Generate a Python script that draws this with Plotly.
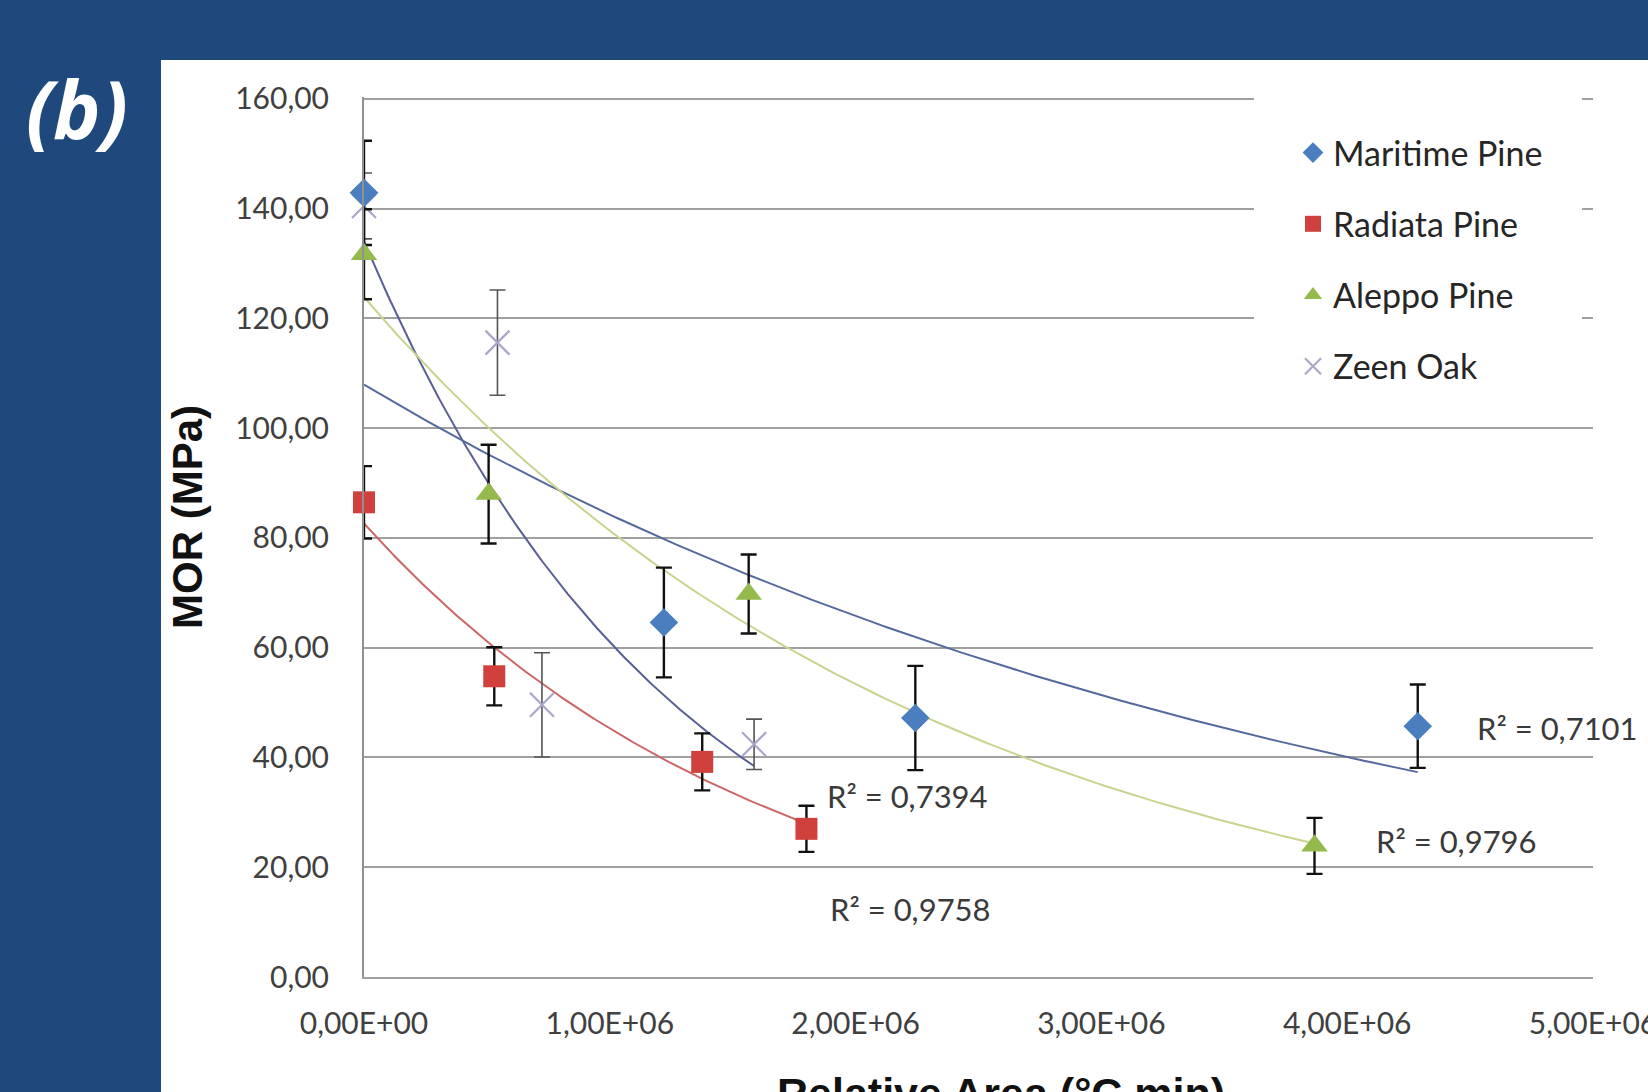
import numpy as np
import plotly.graph_objects as go

# ---------------- data ----------------
species = ["Maritime Pine", "Radiata Pine", "Aleppo Pine", "Zeen Oak"]

mp_x = [0, 1.22e6, 2.243e6, 4.287e6]
mp_y = [142.9, 64.6, 47.2, 45.7]
mp_err = [9.5, 10.0, 9.5, 7.6]

rp_x = [0, 0.53e6, 1.376e6, 1.80e6]
rp_y = [86.5, 54.8, 39.2, 27.0]
rp_err = [6.6, 5.3, 5.2, 4.2]

ap_x = [0, 0.507e6, 1.565e6, 3.867e6]
ap_y = [131.7, 88.0, 69.8, 23.9]
ap_err = [8.2, 9.0, 7.2, 5.1]

zo_x = [0, 0.543e6, 0.724e6, 1.587e6]
zo_y = [140.5, 115.6, 49.6, 42.4]
zo_err = [6.0, 9.6, 9.5, 4.6]

r2_labels = ["R² = 0,7101", "R² = 0,9758", "R² = 0,9796", "R² = 0,7394"]

x_tickvals = [0, 1e6, 2e6, 3e6, 4e6, 5e6]
x_ticktext = ["0,00E+00", "1,00E+06", "2,00E+06", "3,00E+06", "4,00E+06", "5,00E+06"]
y_tickvals = [0, 20, 40, 60, 80, 100, 120, 140, 160]
y_ticktext = ["0,00", "20,00", "40,00", "60,00", "80,00", "100,00", "120,00", "140,00", "160,00"]

# ---------------- styles ----------------
FONT = "Lato"
BLUE_BG = "#1F497D"

series = [
    # name, x, y, err, marker color, symbol, size, trend color, err color, err thick, rank
    (species[3], zo_x, zo_y, zo_err, "#a9a6c9", "x-thin", 24, "#5a5f96", "#555555", 1.6, 4),
    (species[0], mp_x, mp_y, mp_err, "#4a7ebf", "diamond", 22, "#55699c", "#111111", 2.4, 1),
    (species[1], rp_x, rp_y, rp_err, "#d0403c", "square", 22, "#cc6666", "#111111", 2.4, 2),
    (species[2], ap_x, ap_y, ap_err, "#94b94c", "triangle-up", 23, "#c9d28e", "#111111", 2.4, 3),
]

fig = go.Figure()


def exp_fit(xs, ys):
    xs = np.asarray(xs, float)
    ys = np.asarray(ys, float)
    b, ln_a = np.polyfit(xs, np.log(ys), 1)
    xx = np.linspace(xs.min(), xs.max(), 200)
    return xx, np.exp(ln_a) * np.exp(b * xx)


# trendlines first (under markers)
for name, xs, ys, err, mc, sym, sz, tc, ec, et, rank in series:
    tx, ty = exp_fit(xs, ys)
    fig.add_trace(go.Scatter(
        x=tx, y=ty, mode="lines", line=dict(color=tc, width=2),
        showlegend=False, legendgroup=name, hoverinfo="skip"))

for name, xs, ys, err, mc, sym, sz, tc, ec, et, rank in series:
    mk = dict(symbol=sym, size=sz, color=mc)
    if sym == "x-thin":
        mk["line"] = dict(color=mc, width=2.2)
    fig.add_trace(go.Scatter(
        x=xs, y=ys, mode="markers", name=name, marker=mk, cliponaxis=False,
        legendgroup=name, legendrank=rank,
        error_y=dict(type="data", array=err, visible=True, color=ec,
                     thickness=et, width=8)))

# R^2 labels
r2_pos = [(4.52e6, 45.4), (1.888e6, 12.4), (4.11e6, 24.7), (1.876e6, 32.9)]
for txt, (px, py) in zip(r2_labels, r2_pos):
    fig.add_annotation(x=px, y=py, xref="x", yref="y", text=txt, showarrow=False,
                       xanchor="left", yanchor="middle",
                       font=dict(family=FONT, size=31, color="#3a3a3a"))

PLOT_L, PLOT_R, PLOT_T, PLOT_B = 364, 1593, 97, 977
PW, PH = PLOT_R - PLOT_L, PLOT_B - PLOT_T


def px_x(p):
    return (p - PLOT_L) / PW


def px_y(p):
    return (PLOT_B - p) / PH


# white panel
fig.add_shape(type="rect", xref="paper", yref="paper",
              x0=px_x(161), x1=px_x(1700), y0=-0.2, y1=px_y(60),
              fillcolor="white", line=dict(width=0), layer="below")
# legend box hides gridlines
fig.add_shape(type="rect", xref="paper", yref="paper",
              x0=px_x(1254), x1=px_x(1582), y0=px_y(412), y1=px_y(85),
              fillcolor="white", line=dict(width=0), layer="above")

# (b) label
fig.add_annotation(xref="paper", yref="paper", x=px_x(24), y=px_y(108),
                   xanchor="left", yanchor="middle", showarrow=False,
                   text="<b><i>(b)</i></b>",
                   font=dict(family="Open Sans", size=80, color="white"))

# axis titles
fig.add_annotation(xref="paper", yref="paper", x=px_x(187), y=px_y(517),
                   xanchor="center", yanchor="middle", textangle=-90, showarrow=False,
                   text="<b>MOR (MPa)</b>",
                   font=dict(family="Liberation Sans", size=42, color="#111111"))
fig.add_annotation(xref="paper", yref="paper", x=px_x(1001), y=px_y(1067),
                   xanchor="center", yanchor="top", showarrow=False,
                   text="<b>Relative Area (°C min)</b>",
                   font=dict(family="Liberation Sans", size=43, color="#111111"))

fig.update_layout(
    width=1648, height=1092, autosize=False,
    paper_bgcolor=BLUE_BG, plot_bgcolor="white",
    margin=dict(l=PLOT_L, r=1648 - PLOT_R, t=PLOT_T, b=1092 - PLOT_B, pad=0, autoexpand=False),
    showlegend=True,
    legend=dict(x=px_x(1293), y=px_y(124), xanchor="left", yanchor="top",
                bgcolor="rgba(0,0,0,0)", borderwidth=0,
                font=dict(family=FONT, size=34, color="#262626"),
                traceorder="grouped", tracegroupgap=24, itemsizing="trace"),
    xaxis=dict(range=[0, 5e6], tickvals=x_tickvals, ticktext=x_ticktext, automargin=False,
               showgrid=False, zeroline=False, showline=True, linecolor="#a0a0a0", linewidth=2,
               ticks="outside", ticklen=19, tickcolor="rgba(0,0,0,0)",
               ticklabeloverflow="allow",
               tickfont=dict(family=FONT, size=30, color="#404040")),
    yaxis=dict(range=[0, 160.36], tickvals=y_tickvals, ticktext=y_ticktext, automargin=False,
               showgrid=True, gridcolor="#a0a0a0", gridwidth=2, zeroline=False,
               showline=True, linecolor="#909090", linewidth=2,
               ticks="outside", ticklen=27, tickcolor="rgba(0,0,0,0)",
               tickfont=dict(family=FONT, size=30, color="#404040")),
)

fig.write_html("out.html", config={"displayModeBar": False},
               post_script="document.body.style.margin='0';")
